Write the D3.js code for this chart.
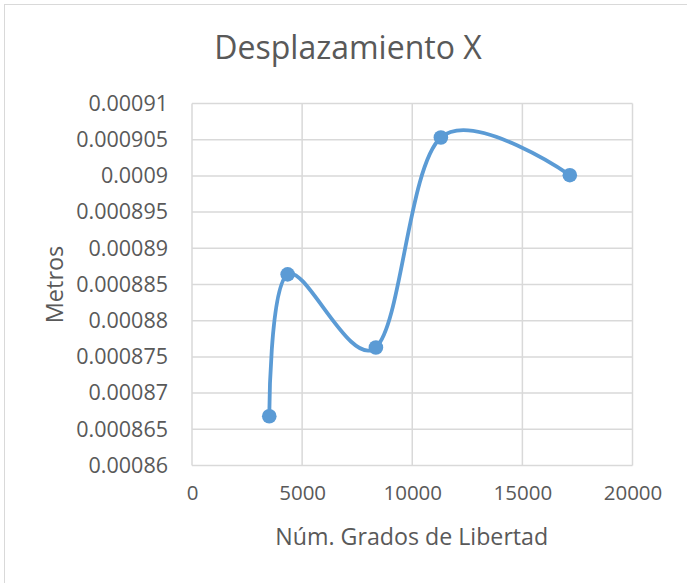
<!DOCTYPE html>
<html>
<head>
<meta charset="utf-8">
<script src="https://cdn.jsdelivr.net/npm/d3@7"></script>
<style>
  html, body { margin: 0; padding: 0; background: #fff; }
  svg { display: block; }
</style>
</head>
<body>
<div id="chart"></div>
<script>
// values
const dof = [3508, 4343, 8350, 11300, 17154];
const disp = [0.0008668, 0.0008864, 0.0008763, 0.0009053, 0.0009001];
const xTicks = [0, 5000, 10000, 15000, 20000];
const yTicks = [0.00086, 0.000865, 0.00087, 0.000875, 0.00088, 0.000885,
                0.00089, 0.000895, 0.0009, 0.000905, 0.00091];
const yTickLabels = ["0.00086", "0.000865", "0.00087", "0.000875", "0.00088", "0.000885",
                     "0.00089", "0.000895", "0.0009", "0.000905", "0.00091"];

const width = 687, height = 583;
const plot = { left: 192, right: 632.5, top: 103.5, bottom: 465.5 };
const font = "'Open Sans', 'Noto Sans', sans-serif";
const textColor = "#595959";
const gridColor = "#d9d9d9";
const lineColor = "#5b9bd5";

const svg = d3.select("#chart").append("svg")
  .attr("width", width)
  .attr("height", height);

// chart frame (right/bottom edges fall outside the picture)
svg.append("rect")
  .attr("x", 4.5).attr("y", 4.5)
  .attr("width", width + 10).attr("height", height + 10)
  .attr("fill", "#fff")
  .attr("stroke", gridColor)
  .attr("stroke-width", 1);

const x = d3.scaleLinear().domain([0, 20000]).range([plot.left, plot.right]);
const y = d3.scaleLinear().domain([0.00086, 0.00091]).range([plot.bottom, plot.top]);

// gridlines
svg.append("g")
  .selectAll("line.h")
  .data(yTicks)
  .enter().append("line")
  .attr("x1", plot.left).attr("x2", plot.right)
  .attr("y1", d => y(d)).attr("y2", d => y(d))
  .attr("stroke", gridColor).attr("stroke-width", 1.5);

svg.append("g")
  .selectAll("line.v")
  .data(xTicks)
  .enter().append("line")
  .attr("x1", d => x(d)).attr("x2", d => x(d))
  .attr("y1", plot.top).attr("y2", plot.bottom)
  .attr("stroke", gridColor).attr("stroke-width", 1.5);

// y tick labels
const yAxis = d3.axisLeft(y)
  .tickValues(yTicks)
  .tickFormat((d, i) => yTickLabels[i])
  .tickSize(0)
  .tickPadding(24);

svg.append("g")
  .attr("transform", `translate(${plot.left},0)`)
  .call(yAxis)
  .call(g => g.select(".domain").remove())
  .selectAll("text")
  .attr("font-family", font)
  .attr("font-size", 21.5)
  .attr("fill", textColor);

// x tick labels
const xAxis = d3.axisBottom(x)
  .tickValues(xTicks)
  .tickFormat(d3.format("d"))
  .tickSize(0)
  .tickPadding(20);

svg.append("g")
  .attr("transform", `translate(0,${plot.bottom})`)
  .call(xAxis)
  .call(g => g.select(".domain").remove())
  .selectAll("text")
  .attr("font-family", font)
  .attr("font-size", 20.5)
  .attr("fill", textColor);

// title
svg.append("text")
  .attr("x", 348).attr("y", 59)
  .attr("text-anchor", "middle")
  .attr("font-family", font)
  .attr("font-size", 32)
  .attr("fill", textColor)
  .text("Desplazamiento X");

// axis titles
svg.append("text")
  .attr("x", (plot.left + plot.right) / 2 - 0.5).attr("y", 545)
  .attr("text-anchor", "middle")
  .attr("font-family", font)
  .attr("font-size", 23.2)
  .attr("fill", textColor)
  .text("Núm. Grados de Libertad");

svg.append("text")
  .attr("transform", `translate(63,${(plot.top + plot.bottom) / 2}) rotate(-90)`)
  .attr("text-anchor", "middle")
  .attr("font-family", font)
  .attr("font-size", 23.5)
  .attr("fill", textColor)
  .text("Metros");

// smoothed series
const pts = dof.map((d, i) => ({ x: d, y: disp[i] }));

const line = d3.line()
  .x(d => x(d.x))
  .y(d => y(d.y))
  .curve(d3.curveCardinal.tension(0));

svg.append("path")
  .datum(pts)
  .attr("d", line)
  .attr("fill", "none")
  .attr("stroke", lineColor)
  .attr("stroke-width", 3.8)
  .attr("stroke-linecap", "round");

svg.append("g")
  .selectAll("circle")
  .data(pts)
  .enter().append("circle")
  .attr("cx", d => x(d.x))
  .attr("cy", d => y(d.y))
  .attr("r", 7.3)
  .attr("fill", lineColor);
</script>
</body>
</html>
